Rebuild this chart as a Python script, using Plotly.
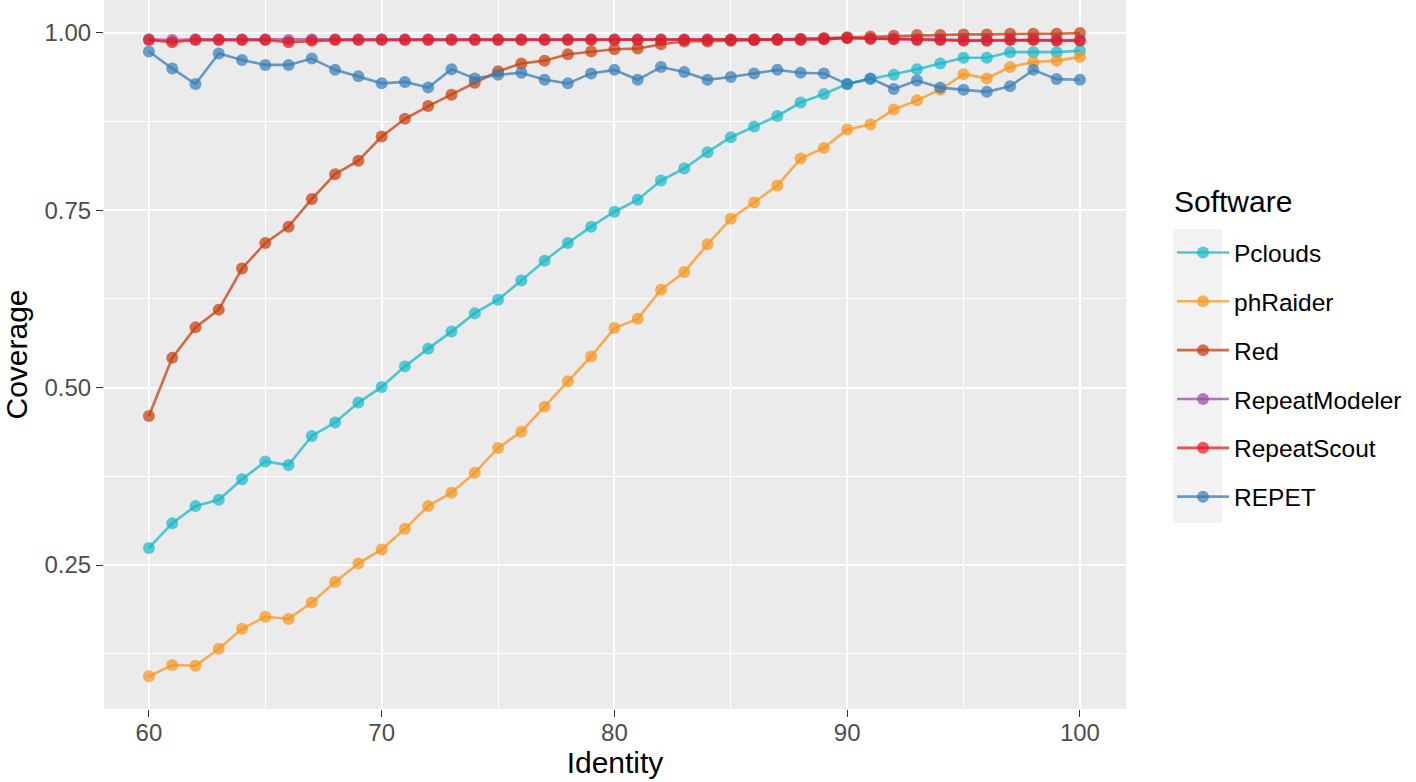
import plotly.graph_objects as go

identity = list(range(60, 101))

software = ["Pclouds", "phRaider", "Red", "RepeatModeler", "RepeatScout", "REPET"]

pclouds = [0.274, 0.309, 0.333, 0.342, 0.371, 0.396, 0.391, 0.432, 0.451, 0.479,
           0.501, 0.530, 0.555, 0.579, 0.605, 0.624, 0.651, 0.679, 0.704, 0.727,
           0.748, 0.765, 0.792, 0.809, 0.832, 0.853, 0.868, 0.883, 0.902, 0.914,
           0.928, 0.935, 0.941, 0.949, 0.957, 0.965, 0.965, 0.973, 0.973, 0.973,
           0.975]

phraider = [0.093, 0.109, 0.108, 0.132, 0.160, 0.177, 0.174, 0.197, 0.226, 0.252,
            0.272, 0.301, 0.333, 0.352, 0.380, 0.415, 0.438, 0.473, 0.509, 0.544,
            0.584, 0.597, 0.638, 0.663, 0.702, 0.738, 0.761, 0.785, 0.823, 0.838,
            0.864, 0.871, 0.892, 0.905, 0.920, 0.942, 0.936, 0.952, 0.959, 0.961,
            0.966]

red = [0.460, 0.542, 0.585, 0.610, 0.668, 0.704, 0.727, 0.766, 0.801, 0.820,
       0.854, 0.879, 0.897, 0.913, 0.930, 0.946, 0.957, 0.961, 0.970, 0.974,
       0.977, 0.978, 0.984, 0.988, 0.988, 0.989, 0.990, 0.991, 0.992, 0.993,
       0.994, 0.995, 0.996, 0.997, 0.997, 0.998, 0.998, 0.999, 0.999, 0.999,
       1.000]

repeatmodeler = [0.991, 0.990, 0.991, 0.991, 0.991, 0.991, 0.990, 0.991, 0.991, 0.991,
                 0.991, 0.991, 0.991, 0.991, 0.991, 0.991, 0.991, 0.991, 0.991, 0.991,
                 0.991, 0.991, 0.991, 0.991, 0.991, 0.991, 0.991, 0.991, 0.991, 0.992,
                 0.993, 0.992, 0.992, 0.991, 0.991, 0.990, 0.990, 0.991, 0.991, 0.990,
                 0.990]

repeatscout = [0.990, 0.987, 0.990, 0.990, 0.990, 0.990, 0.987, 0.989, 0.990, 0.990,
               0.990, 0.990, 0.990, 0.990, 0.990, 0.990, 0.990, 0.990, 0.990, 0.990,
               0.990, 0.990, 0.990, 0.990, 0.990, 0.990, 0.990, 0.990, 0.990, 0.991,
               0.993, 0.992, 0.991, 0.990, 0.990, 0.989, 0.989, 0.990, 0.990, 0.989,
               0.989]

repet = [0.974, 0.950, 0.928, 0.971, 0.962, 0.955, 0.955, 0.964, 0.948, 0.939,
         0.929, 0.931, 0.923, 0.949, 0.936, 0.941, 0.944, 0.934, 0.929, 0.943,
         0.948, 0.934, 0.952, 0.945, 0.934, 0.938, 0.943, 0.948, 0.944, 0.943,
         0.928, 0.936, 0.921, 0.933, 0.923, 0.920, 0.917, 0.925, 0.948, 0.935,
         0.934]

series = [pclouds, phraider, red, repeatmodeler, repeatscout, repet]
colors = ["23,184,201", "248,150,30", "200,62,12", "152,78,163", "228,26,28", "55,126,184"]

fig = go.Figure()
for name, vals, col in zip(software, series, colors):
    fig.add_trace(go.Scatter(
        x=identity, y=vals, name=name, mode="lines+markers",
        legendgroup=name,
        line=dict(color=f"rgba({col},0.75)", width=2.6),
        marker=dict(color=f"rgba({col},0.72)", size=12, line=dict(width=0)),
    ))

# plot panel: px 104..1126 horizontally, 0..709 vertically
L, R, T, B = 104, 290, 0, 73
W, H = 1416 - L - R, 782 - T - B

def px2paper_x(px):
    return (px - L) / W

def px2paper_y(py):
    return (782 - B - py) / H

# legend key background (ggplot grey95)
fig.add_shape(type="rect", xref="paper", yref="paper",
              x0=px2paper_x(1173), x1=px2paper_x(1222),
              y0=px2paper_y(523), y1=px2paper_y(229),
              fillcolor="#F2F2F2", line=dict(width=0), layer="below")

font = "Liberation Sans, Arial, sans-serif"

# legend title
fig.add_annotation(text="Software", xref="paper", yref="paper",
                   x=px2paper_x(1172), y=px2paper_y(201),
                   xanchor="left", yanchor="middle", showarrow=False,
                   font=dict(size=30, color="black", family=font))

fig.update_layout(
    width=1416, height=782,
    margin=dict(l=L, r=R, t=T, b=B),
    paper_bgcolor="white",
    plot_bgcolor="#EBEBEB",
    font=dict(family=font, color="black"),
    showlegend=True,
    legend=dict(
        font=dict(size=24.5, color="black", family=font),
        x=px2paper_x(1172), xanchor="left",
        y=px2paper_y(230), yanchor="top",
        bgcolor="rgba(0,0,0,0)",
        tracegroupgap=14,
        itemwidth=52,
    ),
    xaxis=dict(
        range=[58.07, 101.98],
        tickmode="array", tickvals=[60, 70, 80, 90, 100],
        ticktext=["60", "70", "80", "90", "100"],
        showgrid=True, gridcolor="white", gridwidth=1.6,
        minor=dict(showgrid=True, gridcolor="white", gridwidth=0.8,
                   tickmode="array", tickvals=[57.5, 65, 75, 85, 95]),
        zeroline=False, showline=False,
        ticks="outside", ticklen=7, tickwidth=1.4, tickcolor="#333333",
        ticklabelstandoff=-5,
        tickfont=dict(size=24, color="#4D4D4D", family=font),
        title=dict(text="Identity", font=dict(size=30, color="black", family=font), standoff=4),
    ),
    yaxis=dict(
        range=[0.047, 1.0465],
        tickmode="array", tickvals=[0.25, 0.5, 0.75, 1.0],
        ticktext=["0.25", "0.50", "0.75", "1.00"],
        showgrid=True, gridcolor="white", gridwidth=1.6,
        minor=dict(showgrid=True, gridcolor="white", gridwidth=0.8,
                   tickmode="array", tickvals=[0.125, 0.375, 0.625, 0.875]),
        zeroline=False, showline=False,
        ticks="outside", ticklen=7, tickwidth=1.4, tickcolor="#333333",
        tickfont=dict(size=24, color="#4D4D4D", family=font),
        title=dict(text="Coverage", font=dict(size=30, color="black", family=font), standoff=10),
    ),
)

fig.write_html("out.html", config={"displayModeBar": False},
               post_script="document.body.style.margin='0';")
